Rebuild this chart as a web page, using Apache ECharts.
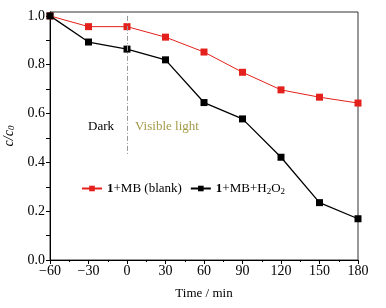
<!DOCTYPE html>
<html>
<head>
<meta charset="utf-8">
<script src="https://cdn.jsdelivr.net/npm/echarts@6/dist/echarts.min.js"></script>
<style>
  html, body { margin: 0; padding: 0; background: #fff; }
  #chart { width: 386px; height: 308px; }
</style>
</head>
<body>
<div id="chart"></div>
<script>
// time points (min)
const times = [-60, -30, 0, 30, 60, 90, 120, 150, 180];
// c/c0 values
const blank = [1.0, 0.956, 0.956, 0.913, 0.852, 0.769, 0.697, 0.667, 0.643];
const withH2O2 = [1.0, 0.893, 0.864, 0.820, 0.645, 0.578, 0.421, 0.235, 0.169];
const yLabels = [0, 0.2, 0.4, 0.6, 0.8, 1.0];
const yTicks = [0, 0.1, 0.2, 0.3, 0.4, 0.5, 0.6, 0.7, 0.8, 0.9, 1.0];

const font = 'Liberation Serif';
const chart = echarts.init(document.getElementById('chart'));

const pairs = arr => times.map((t, i) => [t, arr[i]]);

chart.setOption({
  animation: false,
  textStyle: { fontFamily: font },
  grid: {
    left: 50, right: 28, top: 12, bottom: 48,
    outerBoundsMode: 'none', containLabel: false,
    show: true, borderColor: '#333', borderWidth: 1
  },
  legend: {
    left: 76,
    top: 177,
    itemWidth: 20,
    itemHeight: 7,
    itemGap: 8,
    textStyle: {
      fontFamily: font,
      fontSize: 13,
      color: '#000',
      rich: {
        b: { fontFamily: font, fontSize: 13, fontWeight: 'bold', color: '#000' },
        n: { fontFamily: font, fontSize: 13, color: '#000' },
        s: { fontFamily: font, fontSize: 9, color: '#000', verticalAlign: 'bottom', padding: [6, 0, 0, 0] }
      }
    },
    formatter: name => name === 'blank'
      ? '{b|1}{n|+MB (blank)}'
      : '{b|1}{n|+MB+H}{s|2}{n|O}{s|2}',
    data: ['blank', 'h2o2']
  },
  xAxis: {
    type: 'value',
    min: -60,
    max: 180,
    interval: 30,
    name: 'Time / min',
    nameLocation: 'middle',
    nameGap: 27,
    nameTextStyle: { fontFamily: font, fontSize: 13, color: '#000' },
    axisLine: { show: true, onZero: false, lineStyle: { color: '#000', width: 1 } },
    axisTick: { show: true, inside: false, length: 4, lineStyle: { color: '#000' } },
    minorTick: { show: true, splitNumber: 2, length: 2, lineStyle: { color: '#000' } },
    axisLabel: { fontFamily: font, fontSize: 14, color: '#000', margin: 4,
      formatter: v => String(v).replace('-', '\u2212') },
    splitLine: { show: false }
  },
  yAxis: {
    type: 'value',
    min: 0,
    max: 1.016,
    name: '{i|c}{n|/}{i|c}{s|0}',
    nameLocation: 'middle',
    nameGap: 31,
    nameRotate: 90,
    nameTextStyle: {
      rich: {
        i: { fontFamily: font, fontSize: 14, fontStyle: 'italic', color: '#000' },
        n: { fontFamily: font, fontSize: 14, fontStyle: 'italic', color: '#000' },
        s: { fontFamily: font, fontSize: 9, fontStyle: 'italic', color: '#000', verticalAlign: 'bottom', padding: [6, 0, 0, 0] }
      }
    },
    axisLine: { show: true, onZero: false, lineStyle: { color: '#000', width: 1 } },
    axisTick: { show: true, inside: false, length: 4, customValues: yTicks, lineStyle: { color: '#000' } },
    axisLabel: { fontFamily: font, fontSize: 14, color: '#000', margin: 5, customValues: yLabels,
      formatter: v => v.toFixed(1) },
    splitLine: { show: false }
  },
  graphic: [
    { type: 'text', left: 88, top: 120, style: { text: 'Dark', font: '13px "Liberation Serif"', fill: '#000' } },
    { type: 'text', left: 135, top: 120, style: { text: 'Visible light', font: '13px "Liberation Serif"', fill: '#a39a48' } }
  ],
  series: [
    {
      name: 'blank',
      type: 'line',
      data: pairs(blank),
      symbol: 'rect',
      symbolSize: 7,
      color: '#e3201b',
      lineStyle: { width: 1, color: '#e3201b' },
      itemStyle: { color: '#e3201b' },
      markLine: {
        silent: true,
        symbol: 'none',
        label: { show: false },
        lineStyle: { type: [5, 2, 1, 2], color: '#999', width: 1 },
        data: [[{ coord: [0, 1.0] }, { coord: [0, 0.43] }]]
      },
      z: 3
    },
    {
      name: 'h2o2',
      type: 'line',
      data: pairs(withH2O2),
      symbol: 'rect',
      symbolSize: 7,
      color: '#000',
      lineStyle: { width: 1.3, color: '#000' },
      itemStyle: { color: '#000' },
      z: 4
    }
  ]
});
</script>
</body>
</html>
